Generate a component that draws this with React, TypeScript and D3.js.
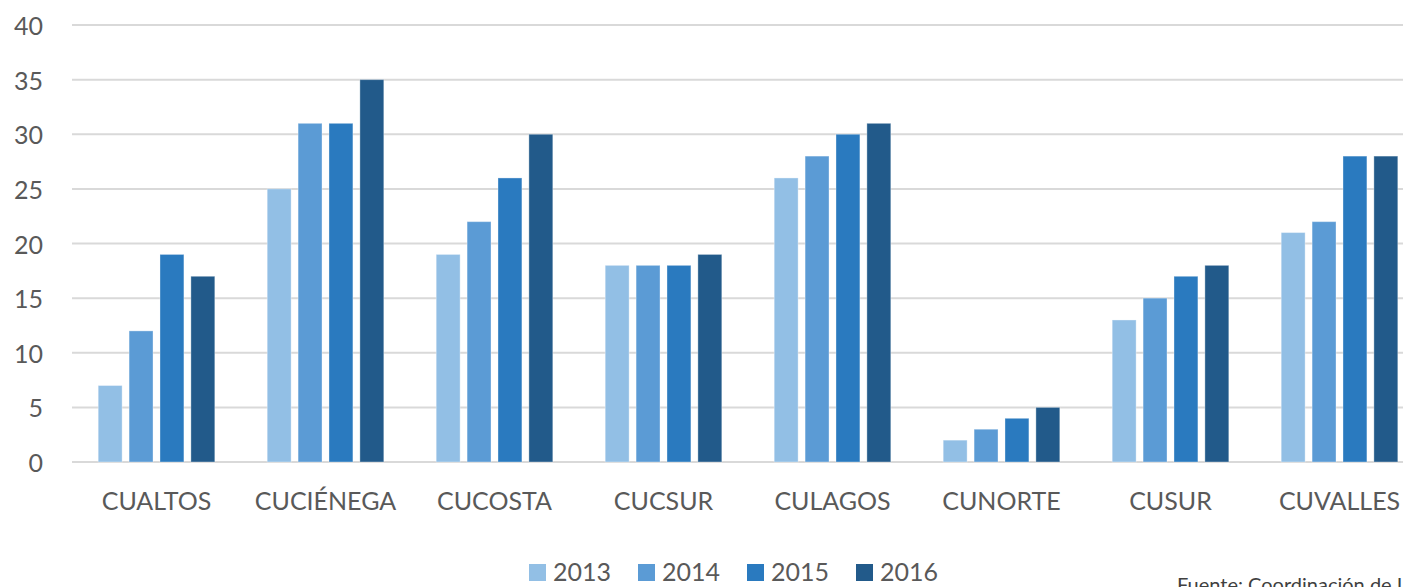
import * as d3 from "d3";

const categories = ["CUALTOS", "CUCIÉNEGA", "CUCOSTA", "CUCSUR", "CULAGOS", "CUNORTE", "CUSUR", "CUVALLES"];
const years = ["2013", "2014", "2015", "2016"];
const values2013 = [7, 25, 19, 18, 26, 2, 13, 21];
const values2014 = [12, 31, 22, 18, 28, 3, 15, 22];
const values2015 = [19, 31, 26, 18, 30, 4, 17, 28];
const values2016 = [17, 35, 30, 19, 31, 5, 18, 28];
const yTicks = [0, 5, 10, 15, 20, 25, 30, 35, 40];

const series = [values2013, values2014, values2015, values2016];
const colors = ["#92bfe5", "#5b9bd5", "#2a7abf", "#225a8a"];

const W = 1403;
const H = 587;
const FONT = "Lato, 'Open Sans', sans-serif";
const TEXT = "#595959";

export default function App() {
  const x0 = d3
    .scaleBand()
    .domain(categories)
    .range([72, 72 + 8 * 169])
    .paddingInner(0.31)
    .paddingOuter(0.155);

  const x1 = d3
    .scaleBand()
    .domain(years)
    .range([0, x0.bandwidth()])
    .paddingInner(0.226);

  const y = d3.scaleLinear().domain([0, 40]).range([462, 25]);

  return (
    <svg
      width={W}
      height={H}
      style={{ position: "absolute", left: 0, top: 0, background: "#fff" }}
      fontFamily={FONT}
    >
      {/* grid */}
      {yTicks.map((t) => (
        <g key={t}>
          <line x1={72} x2={W} y1={y(t)} y2={y(t)} stroke="#d9d9d9" strokeWidth={2} />
          <text
            x={43}
            y={y(t)}
            textAnchor="end"
            dominantBaseline="central"
            fontSize={25}
            fill={TEXT}
          >
            {t}
          </text>
        </g>
      ))}

      {/* bars */}
      {categories.map((c, ci) => (
        <g key={c} transform={`translate(${x0(c)},0)`}>
          {years.map((yr, si) => {
            const v = series[si][ci];
            return (
              <rect
                key={yr}
                x={x1(yr)}
                y={y(v)}
                width={x1.bandwidth()}
                height={y(0) - y(v)}
                fill={colors[si]}
                stroke="#ffffff"
                strokeOpacity={0.35}
                strokeWidth={1}
              />
            );
          })}
          <text
            x={x0.bandwidth() / 2}
            y={510}
            textAnchor="middle"
            fontSize={25}
            fill={TEXT}
          >
            {c}
          </text>
        </g>
      ))}

      {/* legend */}
      {years.map((yr, i) => (
        <g key={yr} transform={`translate(${529 + i * 109},564)`}>
          <rect width={17} height={17} fill={colors[i]} />
          <text x={24} y={17} fontSize={25} fill={TEXT}>
            {yr}
          </text>
        </g>
      ))}

      <text x={1177} y={592} fontSize={20} fill="#404040">
        Fuente: Coordinación de Información
      </text>
    </svg>
  );
}
